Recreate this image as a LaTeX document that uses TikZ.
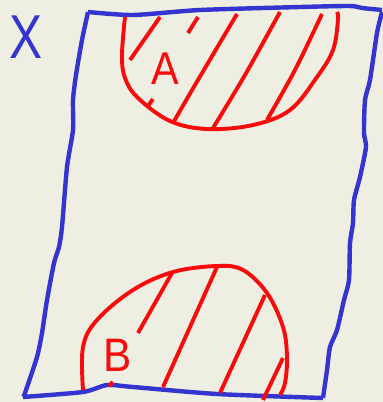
\documentclass[tikz,border=0pt]{standalone}
\usepackage{fontspec}
\setmainfont{Liberation Sans}
\usetikzlibrary{positioning}
\definecolor{penblue}{RGB}{52,52,208}
\definecolor{penred}{RGB}{250,10,10}
\definecolor{paper}{RGB}{238,238,226}
\tikzset{
	x=1pt, y=-1pt,
	line cap=round, line join=round,
	bluepen/.style = {draw=penblue, line width=4.4pt},
	redpen/.style = {draw=penred, line width=3.9pt},
	hatch/.style = {redpen},
	letter/.style = {inner sep=0pt, anchor=center},
}

\begin{document}
\begin{tikzpicture}
	\fill[paper] (0,0) rectangle (383,402);
	\useasboundingbox (0,0) rectangle (383,402);
	% the set X
	\node (x) [letter, text=penblue, xscale=0.8, font=\fontsize{62}{62}\selectfont] at (26,37) {X};
	\draw[bluepen] plot[smooth, tension=0.4] coordinates {(88,12) (133,15) (200,10) (300,7) (350,6) (362,8) (382,10)};
	\draw[bluepen] plot[smooth, tension=0.4] coordinates {(382,12) (377,33) (370,80) (365,100) (364,133) (366,147) (360,177) (354,200) (353,223) (350,243) (349,280) (344,300) (337,330) (330,347) (327,370) (323,398)};
	\draw[bluepen] plot[smooth, tension=0.4] coordinates {(323,398) (217,394) (133,387) (107,385) (83,392) (23,397)};
	\draw[bluepen] plot[smooth, tension=0.4] coordinates {(23,397) (25,393) (37,357) (42,333) (47,300) (54,263) (59,247) (62,227) (67,167) (73,130) (73,100) (76,75) (82,40) (88,12)};
	% region A
	\draw[redpen] plot[smooth, tension=0.6] coordinates {(125,17) (122,55) (125,78) (138,98) (170,121) (207,129) (253,125) (290,110) (317,77) (333,50) (338,20) (337,12)};
	\draw[hatch] (130,60) -- (160,17);
	\draw[hatch] (188,33) -- (198,17);
	\draw[hatch] (148,106) -- (153,99);
	\draw[hatch] plot[smooth] coordinates {(173,123) (195,85) (237,14)};
	\draw[hatch] plot[smooth] coordinates {(213,128) (245,75) (280,12)};
	\draw[hatch] plot[smooth] coordinates {(267,120) (295,70) (322,14)};
	\node (a) [letter, text=penred, xscale=0.9, font=\fontsize{46}{46}\selectfont] at (165,69) {A};
	% region B
	\draw[redpen] plot[smooth, tension=0.6] coordinates {(83,390) (83,347) (97,320) (133,290) (173,272) (217,266) (243,270) (267,293) (283,327) (287,357) (285,383) (280,395)};
	\draw[hatch] (138,333) -- (172,273);
	\draw[hatch] (163,387) -- (217,267);
	\draw[hatch] (220,393) -- (265,295);
	\draw[hatch] (263,400) -- (283,358);
	\draw[hatch] (109,386) -- (113,382);
	\node (b) [letter, text=penred, xscale=0.9, font=\fontsize{47}{47}\selectfont] at (118,355) {B};
\end{tikzpicture}
\end{document}
